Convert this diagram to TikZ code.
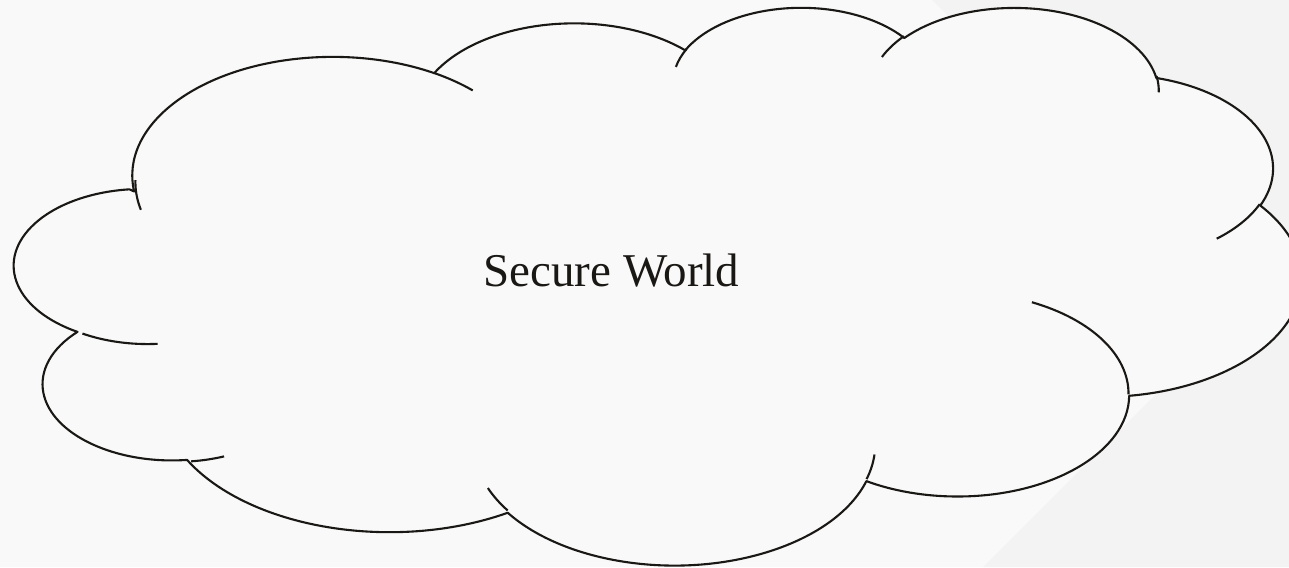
\documentclass[tikz,border=0pt]{standalone}
\usepackage{fontspec}
\setmainfont{Liberation Serif}
\definecolor{bgbase}{HTML}{F9F9F9}
\definecolor{bgband}{HTML}{F3F3F3}
\definecolor{cloudfill}{HTML}{F9F9F9}
\definecolor{ink}{HTML}{1A1815}
\begin{document}
\begin{tikzpicture}[
  x=1pt, y=-1pt,
  % parametric angle of the point seen at angle #3 on an ellipse w x h
  declare function={vt(\w,\h,\a)=atan2(\w*sin(\a),\h*cos(\a));},
  % one puff of the cloud: radii, start (view) angle, sweep
  lobe/.style n args={4}{x radius=#1, y radius=#2,
    start angle={vt(#1,#2,#3)},
    delta angle={mod(vt(#1,#2,#3+#4)-vt(#1,#2,#3)+720,360)}},
  cloudline/.style={draw=ink, line width=2.1pt, line join=round, line cap=butt},
  caption/.style={text=ink, font=\fontsize{47pt}{56pt}\selectfont, inner sep=0pt}
]
\useasboundingbox (0,0) rectangle (1289,567);
\clip (0,0) rectangle (1289,567);

% backdrop with soft diagonal bands
\fill[bgbase] (0,0) rectangle (1289,567);
\fill[bgband] (932,0) -- (1289,0) -- (1289,357) -- cycle;
\fill[bgband] (1289,261) -- (1289,567) -- (983,567) -- cycle;

% cloud, laid out on a 432 x 432 grid
\begin{scope}[shift={(18.3,6.0)}, x=2.970pt, y=-1.2906pt]
  \draw[cloudline, fill=cloudfill] (39.00,143.70)
    arc[lobe={67.53}{91.90}{-190.4875}{123.7805}]
    arc[lobe={53.33}{72.67}{-144.1024}{89.9452}]
    arc[lobe={43.65}{59.45}{-145.8079}{99.7230}]
    arc[lobe={48.57}{65.95}{-130.9861}{117.2417}]
    arc[lobe={53.33}{72.73}{-78.7089}{109.0269}]
    arc[lobe={67.75}{92.20}{-46.2673}{130.2690}]
    arc[lobe={57.85}{78.67}{0.6250}{114.0333}]
    arc[lobe={67.52}{92.15}{22.4516}{115.1726}]
    arc[lobe={77.20}{105.43}{66.2426}{77.8245}]
    arc[lobe={43.60}{59.18}{-274.9421}{146.7356}]
    arc[lobe={43.45}{59.45}{-246.8285}{152.5189}]
    -- cycle;
  % inner creases between the puffs
  \draw[cloudline]
    (46.93,261.77) arc[lobe={43.45}{59.45}{86.7420}{26.4295}]
    (69.28,348.99) arc[lobe={43.60}{59.18}{73.6105}{11.4475}]
    (164.78,390.90) arc[lobe={67.52}{92.15}{137.6242}{14.0811}]
    (288.27,347.51) arc[lobe={67.52}{92.15}{6.4533}{15.9984}]
    (341.29,229.54) arc[lobe={57.85}{78.67}{-70.2924}{70.9174}]
    (417.98,153.54) arc[lobe={53.33}{72.73}{30.3180}{27.7515}]
    (383.24,54.26) arc[lobe={48.57}{65.95}{-13.7443}{14.8589}]
    (290.78,39.52) arc[lobe={48.57}{65.95}{-149.1815}{18.1954}]
    (221.41,47.20) arc[lobe={43.65}{59.45}{-163.4943}{17.6864}]
    (140.00,51.92) arc[lobe={67.53}{91.90}{-66.7070}{12.3194}]
    (41.27,157.89) arc[lobe={67.53}{91.90}{162.0468}{19.4307}];
\end{scope}

\node[caption, anchor=base] (title) at (611.4,286.7) {Secure World};
\end{tikzpicture}
\end{document}
